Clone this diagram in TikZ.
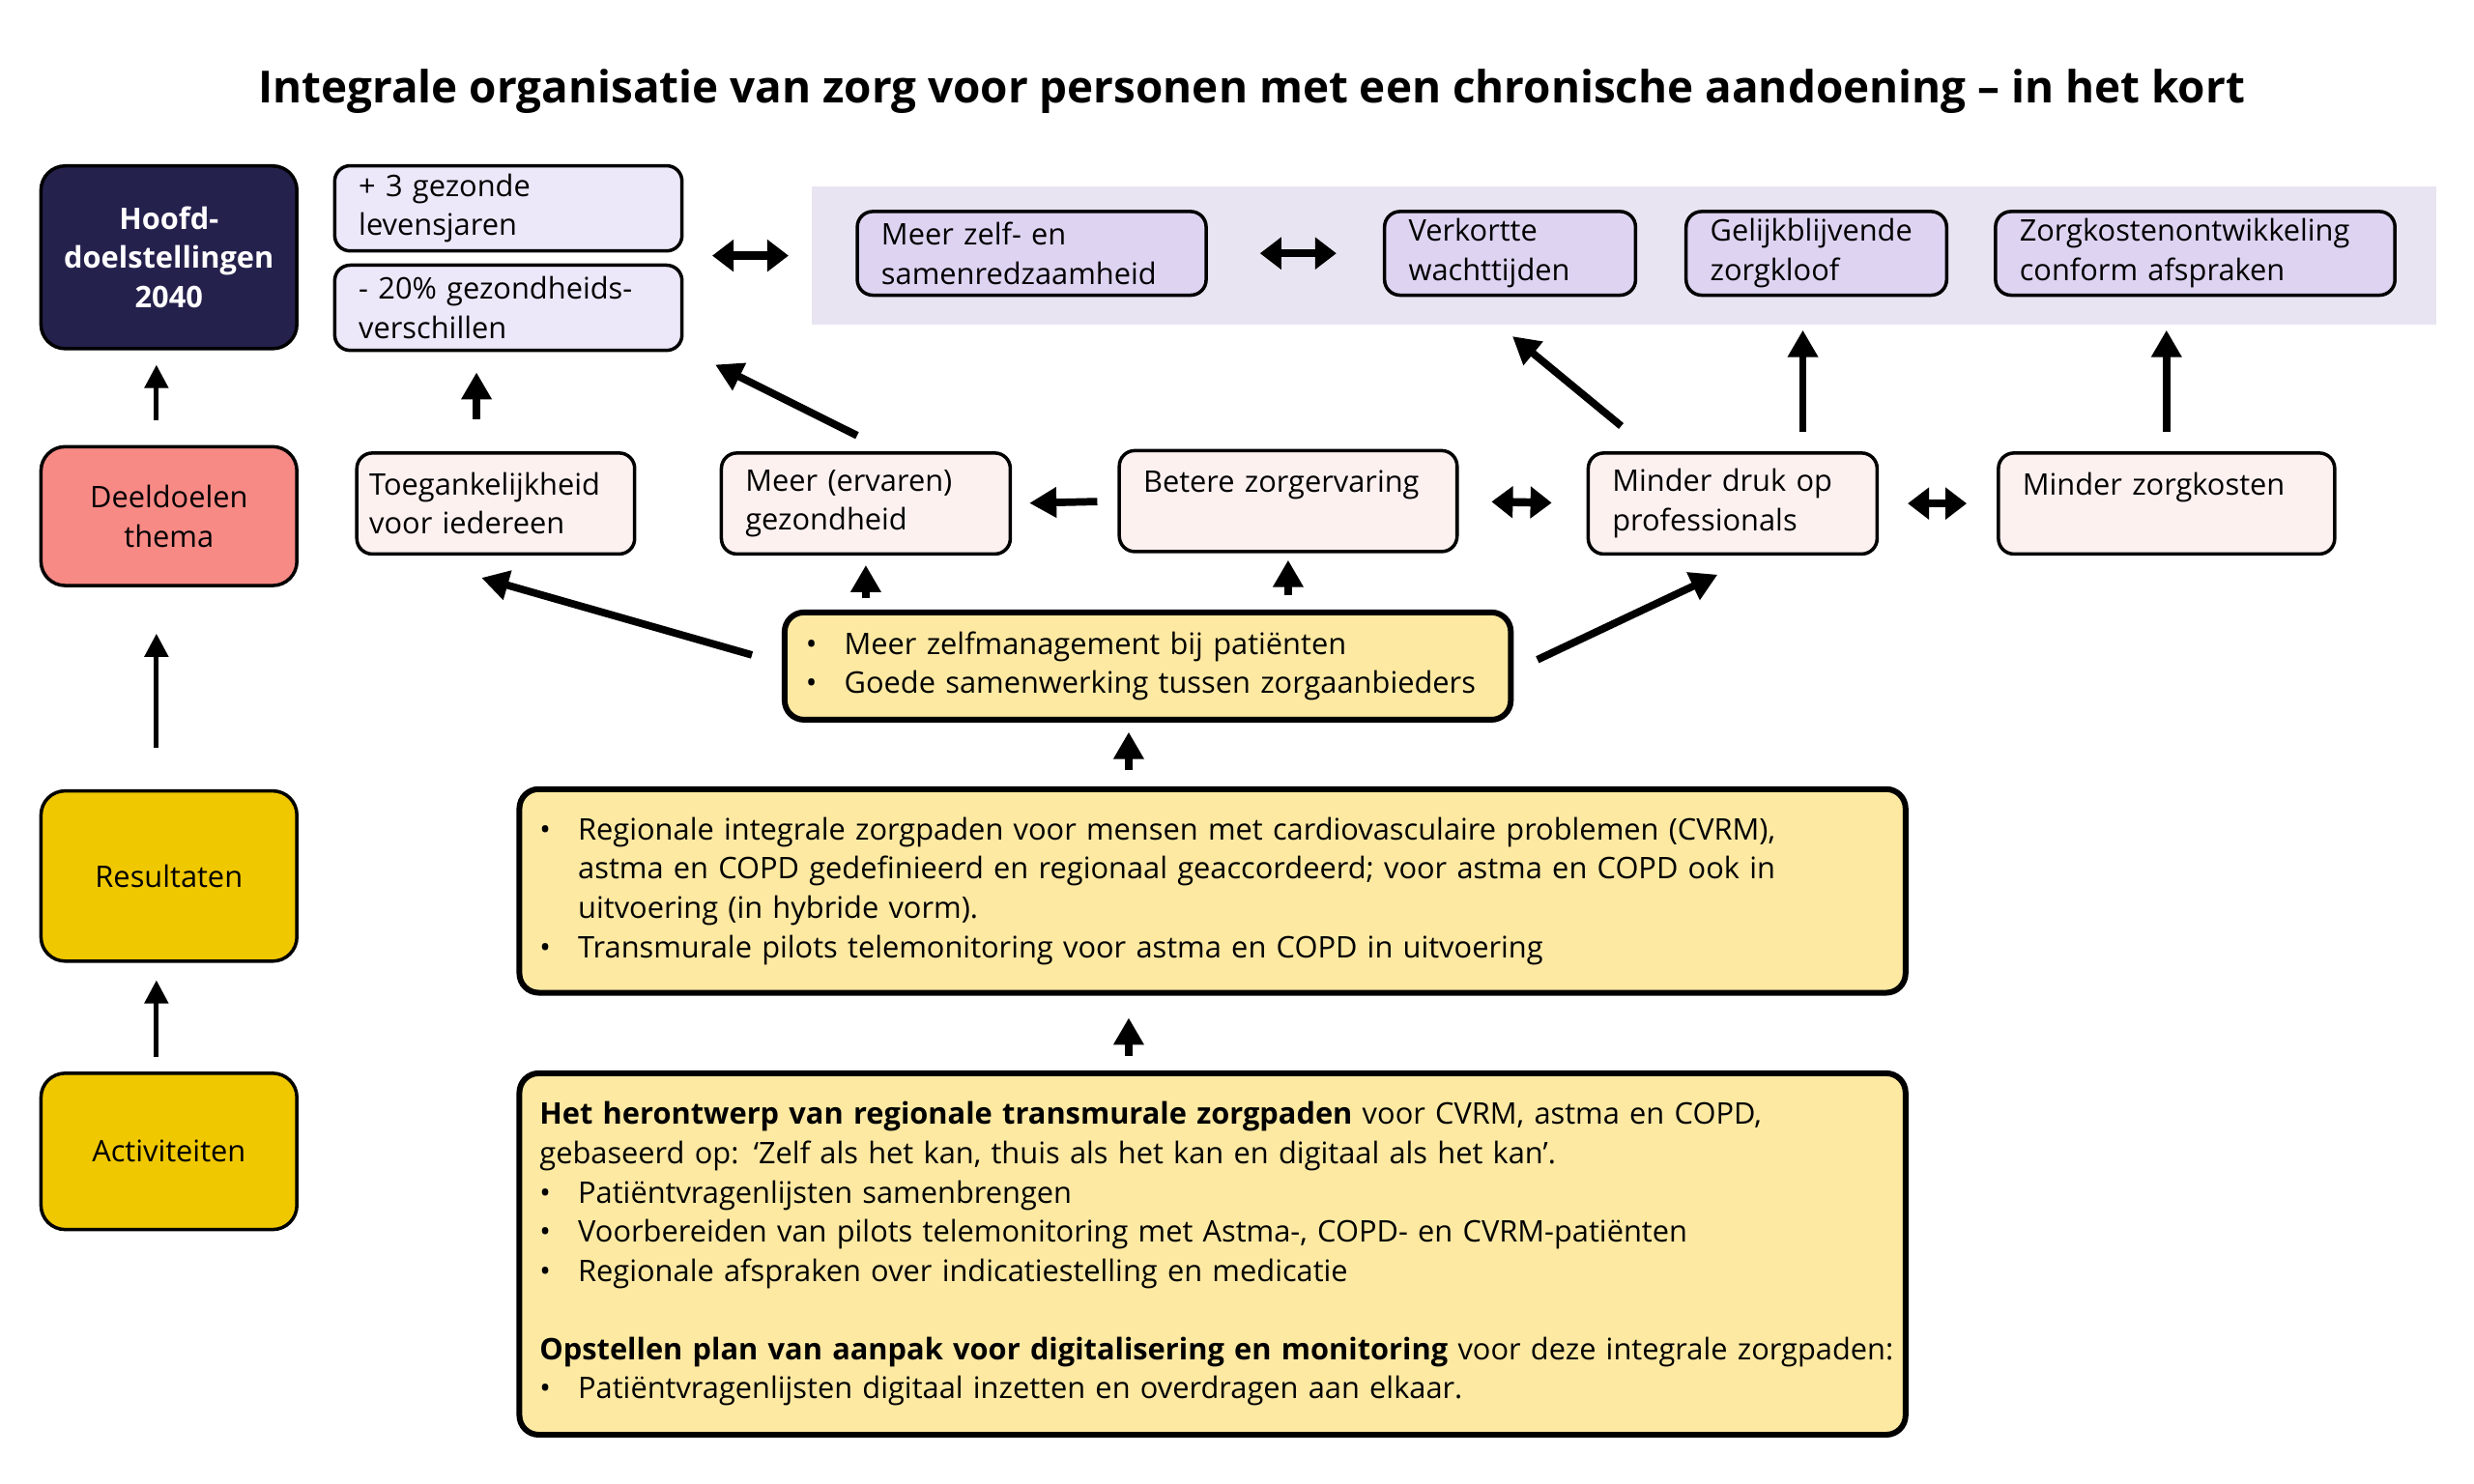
\documentclass[tikz,border=0pt]{standalone}
\usepackage{fontspec}
\setmainfont{Open Sans}
\usetikzlibrary{arrows.meta}

\definecolor{navy}{RGB}{37,33,77}
\definecolor{salmon}{RGB}{248,138,134}
\definecolor{gold}{RGB}{240,200,0}
\definecolor{paleyellow}{RGB}{253,233,162}
\definecolor{palepink}{RGB}{253,241,240}
\definecolor{palelilac}{RGB}{236,232,250}
\definecolor{bandlilac}{RGB}{233,228,241}
\definecolor{lilac}{RGB}{222,212,242}

\newcommand{\bul}{\makebox[.40cm][l]{\textbullet}}
\newcommand{\ind}{\hspace*{.40cm}}

\begin{document}
\begin{tikzpicture}[
    every node/.style={font=\fontsize{8.8}{11.6}\selectfont},
    lbox/.style={draw, rounded corners=.25cm, line width=1pt, align=center, text width=2.66cm, inner xsep=0pt},
    sbox/.style={draw, rounded corners=.16cm, line width=1pt, align=left, inner xsep=.25cm, inner ysep=0pt},
    ybox/.style={draw, rounded corners=.2cm, line width=1.7pt, align=left, fill=paleyellow, inner ysep=0pt},
    arr/.style={-{Triangle[length=.24cm,width=.24cm]}, line width=1.4pt},
    bigarr/.style={-{Triangle[length=.28cm,width=.3cm]}, line width=2.2pt},
    dbl/.style={{Triangle[length=.22cm,width=.32cm]}-{Triangle[length=.22cm,width=.32cm]}, line width=2.4pt}
]

    \useasboundingbox (0,0) rectangle (25.6,-15.35);

    \begin{scope}[scale=.9955, transform shape]

    \node[font=\fontsize{13.1}{16}\selectfont\bfseries] (title) at (13.01,-0.95)
        {Integrale organisatie van zorg voor personen met een chronische aandoening – in het kort};

    % linker kolom
    \node[lbox, fill=navy, text=white, font=\fontsize{8.8}{11.6}\selectfont\bfseries, minimum height=1.9cm] (hoofd) at (1.756,-2.675) {Hoofd-\\doelstellingen\\2040};
    \node[lbox, fill=salmon, minimum height=1.444cm] (deel) at (1.756,-5.366) {Deeldoelen\\thema};
    \node[lbox, fill=gold, minimum height=1.77cm] (res) at (1.756,-9.108) {Resultaten};
    \node[lbox, fill=gold, minimum height=1.625cm] (act) at (1.756,-11.971) {Activiteiten};

    \draw[arr, shorten <=.26cm, shorten >=.15cm] ([xshift=-.13cm]deel.north) -- ([xshift=-.13cm]hoofd.south);
    \draw[arr, shorten <=.43cm, shorten >=.48cm] ([xshift=-.13cm]res.north) -- ([xshift=-.13cm]deel.south);
    \draw[arr, shorten <=.15cm, shorten >=.18cm] ([xshift=-.13cm]act.north) -- ([xshift=-.13cm]res.south);

    % hoofddoelen
    \node[sbox, fill=palelilac, text width=3.11cm, minimum height=.886cm] (plus) at (5.284,-2.166) {+ 3 gezonde\\levensjaren};
    \node[sbox, fill=palelilac, text width=3.11cm, minimum height=.886cm] (min) at (5.284,-3.2) {- 20\% gezondheids-\\verschillen};

    \node[fill=bandlilac, minimum width=16.885cm, minimum height=1.444cm, inner sep=0pt] (band) at (16.8775,-2.658) {};
    \node[sbox, fill=lilac, text width=3.126cm, minimum height=.87cm] (zelf) at (10.724,-2.634) {Meer zelf- en\\samenredzaamheid};
    \node[sbox, fill=lilac, text width=2.109cm, minimum height=.87cm] (verk) at (15.696,-2.634) {Verkortte\\wachttijden};
    \node[sbox, fill=lilac, text width=2.208cm, minimum height=.87cm] (gel) at (18.88,-2.634) {Gelijkblijvende\\zorgkloof};
    \node[sbox, fill=lilac, text width=3.652cm, minimum height=.87cm] (zko) at (22.818,-2.634) {Zorgkostenontwikkeling\\conform afspraken};

    \draw[dbl, shorten <=.296cm, shorten >=.23cm] (plus.east |- band.west) -- (band.west);
    \draw[dbl, shorten <=.54cm, shorten >=.48cm] (zelf.east) -- (verk.west);

    % deeldoelen
    \node[sbox, fill=palepink, inner xsep=.13cm, text width=2.628cm, minimum height=1.05cm] (toeg) at (5.153,-5.235) {Toegankelijkheid\\voor iedereen};
    \node[sbox, fill=palepink, text width=2.503cm, minimum height=1.05cm] (merv) at (9.0,-5.235) {Meer (ervaren)\\gezondheid};
    \node[sbox, fill=palepink, text width=3.011cm, minimum height=1.05cm] (bet) at (13.39,-5.21) {Betere zorgervaring\\~};
    \node[sbox, fill=palepink, text width=2.503cm, minimum height=1.05cm] (druk) at (18.01,-5.235) {Minder druk op\\professionals};
    \node[sbox, fill=palepink, text width=2.995cm, minimum height=1.05cm] (zk) at (22.52,-5.235) {Minder zorgkosten\\~};

    \draw[bigarr, shorten <=.21cm, shorten >=.18cm] (bet.west) -- (merv.east);
    \draw[dbl, shorten <=.34cm, shorten >=.36cm] (bet.east) -- (druk.west);
    \draw[dbl, shorten <=.30cm, shorten >=.31cm] (druk.east) -- (zk.west);

    \draw[bigarr, shorten <=.33cm, shorten >=.21cm] ([xshift=-.2cm]toeg.north) -- ([xshift=-.2cm]toeg.north |- min.south);
    \draw[bigarr] ([shift={(-.09,.164)}]merv.north) -- ([shift={(.328,-.131)}]min.south east);
    \draw[bigarr] ([shift={(.361,.263)}]druk.north west) -- ([shift={(.025,-.41)}]verk.south);
    \draw[bigarr, shorten <=.197cm, shorten >=.344cm] ([xshift=.73cm]druk.north) -- ([xshift=.73cm]druk.north |- gel.south);
    \draw[bigarr, shorten <=.197cm, shorten >=.344cm] (zk.north) -- (zk.north |- zko.south);

    % resultaten
    \node[ybox, inner xsep=.22cm, text width=7.108cm, minimum height=1.116cm] (y1) at (11.93,-6.925)
        {\bul Meer zelfmanagement bij patiënten\\
         \bul Goede samenwerking tussen zorgaanbieders};

    \draw[bigarr] ([shift={(-.31,.115)}]y1.west) -- ([shift={(-.148,-.23)}]toeg.south);
    \draw[bigarr, shorten <=.115cm, shorten >=.098cm] (y1.north -| merv.south) -- (merv.south);
    \draw[bigarr, shorten <=.148cm, shorten >=.07cm] (y1.north -| bet.south) -- (bet.south);
    \draw[bigarr] ([shift={(.247,.066)}]y1.east) -- ([shift={(-.156,-.197)}]druk.south);

    \node[ybox, inner xsep=.21cm, text width=13.988cm, minimum height=2.117cm] (resbox) at (12.603,-9.263)
        {\bul Regionale integrale zorgpaden voor mensen met cardiovasculaire problemen (CVRM),\\
         \ind astma en COPD gedefinieerd en regionaal geaccordeerd; voor astma en COPD ook in\\
         \ind uitvoering (in hybride vorm).\\
         \bul Transmurale pilots telemonitoring voor astma en COPD in uitvoering};

    % activiteiten
    \node[ybox, inner xsep=.21cm, text width=13.988cm, minimum height=3.758cm] (actbox) at (12.603,-13.038)
        {\textbf{Het herontwerp van regionale transmurale zorgpaden} voor CVRM, astma en COPD,\\
         gebaseerd op: ‘Zelf als het kan, thuis als het kan en digitaal als het kan’.\\
         \bul Patiëntvragenlijsten samenbrengen\\
         \bul Voorbereiden van pilots telemonitoring met Astma-, COPD- en CVRM-patiënten\\
         \bul Regionale afspraken over indicatiestelling en medicatie\\[11.6pt]
         \mbox{\textbf{Opstellen plan van aanpak voor digitalisering en monitoring} voor deze integrale zorgpaden:}\\
         \bul Patiëntvragenlijsten digitaal inzetten en overdragen aan elkaar.};

    \coordinate (mid) at ([xshift=-.197cm]y1.south);
    \draw[bigarr, shorten <=.164cm, shorten >=.098cm] (mid |- resbox.north) -- (mid);
    \draw[bigarr, shorten <=.148cm, shorten >=.23cm] (mid |- actbox.north) -- (mid |- resbox.south);

    \end{scope}

\end{tikzpicture}
\end{document}
